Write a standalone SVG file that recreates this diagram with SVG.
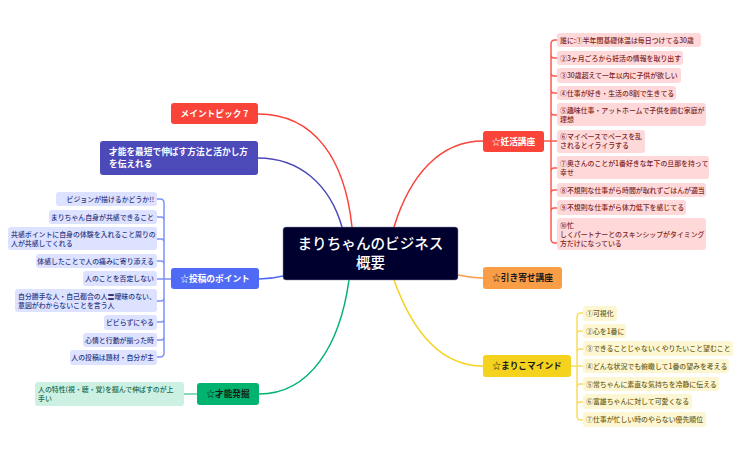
<svg xmlns="http://www.w3.org/2000/svg" width="741" height="459" viewBox="0 0 741 459">
<style>
text{font-family:"Noto Sans CJK JP","Noto Sans",sans-serif}
.c{fill:none;stroke-width:1.5;stroke-linecap:round}
.t{font-size:8.7px;font-weight:700}
.i{font-size:6.9px;font-weight:500}
.r{stroke:#fb5a50}.y{stroke:#f7dc60}.b{stroke:#7d92fa}.g{stroke:#5fd0a5}
.ri rect{fill:#ffd9d9}.ri text{fill:#7a2525}
.yi rect{fill:#fdf6d3}.yi text{fill:#6e6218}
.bi rect{fill:#dce2ff}.bi text{fill:#2c3782;text-anchor:end}
.gi rect{fill:#ccf0e2}.gi text{fill:#1c6b4c}
</style>
<rect width="741" height="459" fill="#fff"/>
<g id="connectors">
<path class="c" stroke="#fa4339" d="M258 114C315 114 345 160 352 227"/>
<path class="c" stroke="#4c49b9" d="M258 158C300 158 330 185 342 227"/>
<path class="c" stroke="#fa4339" d="M394 227C410 175 440 141 483 141"/>
<path class="c" stroke="#f99d46" d="M458 275C468 277 475 278 483 278"/>
<path class="c" stroke="#f4d21e" d="M394 280C412 330 440 366 483 366"/>
<path class="c" stroke="#4f6bf5" d="M259 279C268 279 275 278 283 276"/>
<path class="c" stroke="#00b36e" d="M349 280C340 345 310 394 259 394"/>
<path class="c r" d="M557 40H555Q551 40 551 44V239Q551 243 555 243H557M551 55Q551 58 554 58H557M551 73Q551 76 554 76H557M551 90Q551 93 554 93H557M551 112Q551 115 554 115H557M551 171Q551 168 554 168H557M551 193Q551 190 554 190H557M551 211Q551 208 554 208H557M544 141H557"/>
<path class="c y" d="M583 313H581Q577 313 577 317V416Q577 420 581 420H583M577 334Q577 331 580 331H583M577 352Q577 349 580 349H583M571 366H583M577 387Q577 384 580 384H583M577 405Q577 402 580 402H583"/>
<path class="c b" d="M157 199H160Q164 199 164 203V353Q164 357 160 357H157M164 220Q164 217 161 217H157M164 242Q164 239 161 239H157M164 264Q164 261 161 261H157M171 279H157M164 298Q164 301 161 301H157M164 319Q164 322 161 322H157M164 337Q164 340 161 340H157"/>
<path class="c g" d="M197 394H184"/>
</g>
<g id="center"><rect x="283" y="227" width="175" height="53" rx="3" fill="#00002e" stroke="#8a8aa5" stroke-width=".5"/><text x="370.500" y="249" font-size="14.600" font-weight="500" fill="#fff" text-anchor="middle">まりちゃんのビジネス</text><text x="370.500" y="268" font-size="14.600" font-weight="500" fill="#fff" text-anchor="middle">概要</text></g>
<g id="n-main7"><rect x="171" y="103" width="87" height="21" rx="3" fill="#fa4339"/><text class="t" x="214.500" y="117" fill="#fff" text-anchor="middle">メイントピック 7</text></g>
<g id="n-talent"><rect x="100" y="141" width="158" height="34" rx="3" fill="#4c49b9"/><text class="t" x="109" y="154.500" fill="#fff">才能を最短で伸ばす方法と活かし方</text><text class="t" x="109" y="166.500" fill="#fff">を伝えれる</text></g>
<g id="n-ninkatsu"><rect x="483" y="131" width="61" height="21" rx="3" fill="#fa4339"/><text class="t" x="513.500" y="145" fill="#fff" text-anchor="middle">☆妊活講座</text></g>
<g id="n-hikiyose"><rect x="483" y="267" width="79" height="22" rx="3" fill="#f99d46"/><text class="t" x="522.500" y="281" fill="#1a1a1a" text-anchor="middle">☆引き寄せ講座</text></g>
<g id="n-mind"><rect x="483" y="355" width="88" height="22" rx="3" fill="#f4d21e"/><text class="t" x="527" y="369" fill="#1a1a1a" text-anchor="middle">☆まりこマインド</text></g>
<g id="n-post"><rect x="171" y="268" width="88" height="21" rx="3" fill="#4f6bf5"/><text class="t" x="215" y="282" fill="#fff" text-anchor="middle">☆投稿のポイント</text></g>
<g id="n-saino"><rect x="197" y="383" width="62" height="22" rx="3" fill="#00b36e"/><text class="t" x="228" y="397" fill="#1a1a1a" text-anchor="middle">☆才能発掘</text></g>
<g class="ri">
<g id="r1"><rect x="557" y="33" width="144" height="14" rx="3"/><text class="i" x="560" y="43">誰に:①半年間基礎体温は毎日つけてる30歳</text></g>
<g id="r2"><rect x="557" y="51" width="126" height="14" rx="3"/><text class="i" x="560" y="61">②3ヶ月ごろから妊活の情報を取り出す</text></g>
<g id="r3"><rect x="557" y="68" width="124" height="15" rx="3"/><text class="i" x="560" y="78">③30歳超えて一年以内に子供が欲しい</text></g>
<g id="r4"><rect x="557" y="86" width="119" height="14" rx="3"/><text class="i" x="560" y="96">④仕事が好き・生活の8割で生きてる</text></g>
<g id="r5"><rect x="557" y="103" width="149" height="23" rx="3"/><text class="i" x="560" y="113">⑤趣味仕事・アットホームで子供を囲む家庭が</text><text class="i" x="560" y="122">理想</text></g>
<g id="r6"><rect x="557" y="130" width="88" height="23" rx="3"/><text class="i" x="560" y="139">⑥マイペースでペースを乱</text><text class="i" x="560" y="148">されるとイライラする</text></g>
<g id="r7"><rect x="557" y="156" width="152" height="23" rx="3"/><text class="i" x="560" y="166">⑦奥さんのことが1番好きな年下の旦那を持って</text><text class="i" x="560" y="175">幸せ</text></g>
<g id="r8"><rect x="557" y="183" width="149" height="14" rx="3"/><text class="i" x="560" y="193">⑧不規則な仕事がら時間が取れずごはんが適当</text></g>
<g id="r9"><rect x="557" y="200" width="129" height="15" rx="3"/><text class="i" x="560" y="210">⑨不規則な仕事がら体力低下を感じてる</text></g>
<g id="r10"><rect x="557" y="218" width="149" height="32" rx="3"/><text class="i" x="560" y="228">⑩忙</text><text class="i" x="560" y="237">しくパートナーとのスキンシップがタイミング</text><text class="i" x="560" y="246">方だけになっている</text></g>
</g>
<g class="yi">
<g id="y1"><rect x="583" y="306" width="34" height="15" rx="3"/><text class="i" x="586" y="316">①可視化</text></g>
<g id="y2"><rect x="583" y="324" width="43" height="14" rx="3"/><text class="i" x="586" y="334">②心を1番に</text></g>
<g id="y3"><rect x="583" y="341" width="150" height="15" rx="3"/><text class="i" x="586" y="351">③できることじゃないくやりたいこと望むこと</text></g>
<g id="y4"><rect x="583" y="359" width="146" height="14" rx="3"/><text class="i" x="586" y="369">④どんな状況でも俯瞰して1番の望みを考える</text></g>
<g id="y5"><rect x="583" y="377" width="136" height="14" rx="3"/><text class="i" x="586" y="387">⑤常ちゃんに素直な気持ちを冷静に伝える</text></g>
<g id="y6"><rect x="583" y="394" width="109" height="15" rx="3"/><text class="i" x="586" y="404">⑥富雄ちゃんに対して可愛くなる</text></g>
<g id="y7"><rect x="583" y="412" width="123" height="15" rx="3"/><text class="i" x="586" y="422">⑦仕事が忙しい時のやらない優先順位</text></g>
</g>
<g class="bi">
<g id="b1"><rect x="56" y="192" width="101" height="14" rx="3"/><text class="i" x="154" y="202">ビジョンが描けるかどうか!!</text></g>
<g id="b2"><rect x="49" y="210" width="108" height="14" rx="3"/><text class="i" x="154" y="220">まりちゃん自身が共感できること</text></g>
<g id="b3"><rect x="8" y="227" width="149" height="23" rx="3"/><text class="i" x="11" y="237" style="text-anchor:start">共感ポイントに自身の体験を入れること周りの</text><text class="i" x="11" y="246" style="text-anchor:start">人が共感してくれる</text></g>
<g id="b4"><rect x="36" y="254" width="121" height="14" rx="3"/><text class="i" x="154" y="264">体感したことで人の痛みに寄り添える</text></g>
<g id="b5"><rect x="83" y="271" width="74" height="15" rx="3"/><text class="i" x="154" y="281">人のことを否定しない</text></g>
<g id="b6"><rect x="15" y="289" width="142" height="23" rx="3"/><text class="i" x="18" y="299" style="text-anchor:start">自分勝手な人・自己都合の人〓曖昧のない、</text><text class="i" x="18" y="308" style="text-anchor:start">意図がわからないことを言う人</text></g>
<g id="b7"><rect x="104" y="315" width="53" height="15" rx="3"/><text class="i" x="154" y="325">ビビらずにやる</text></g>
<g id="b8"><rect x="83" y="333" width="74" height="14" rx="3"/><text class="i" x="154" y="343">心情と行動が揃った時</text></g>
<g id="b9"><rect x="70" y="350" width="87" height="15" rx="3"/><text class="i" x="154" y="360">人の投稿は題材・自分が主</text></g>
</g>
<g class="gi">
<g id="g1"><rect x="35" y="382" width="149" height="24" rx="3"/><text class="i" x="38" y="392">人の特性(視・聴・覚)を掴んで伸ばすのが上</text><text class="i" x="38" y="401">手い</text></g>
</g>
</svg>
